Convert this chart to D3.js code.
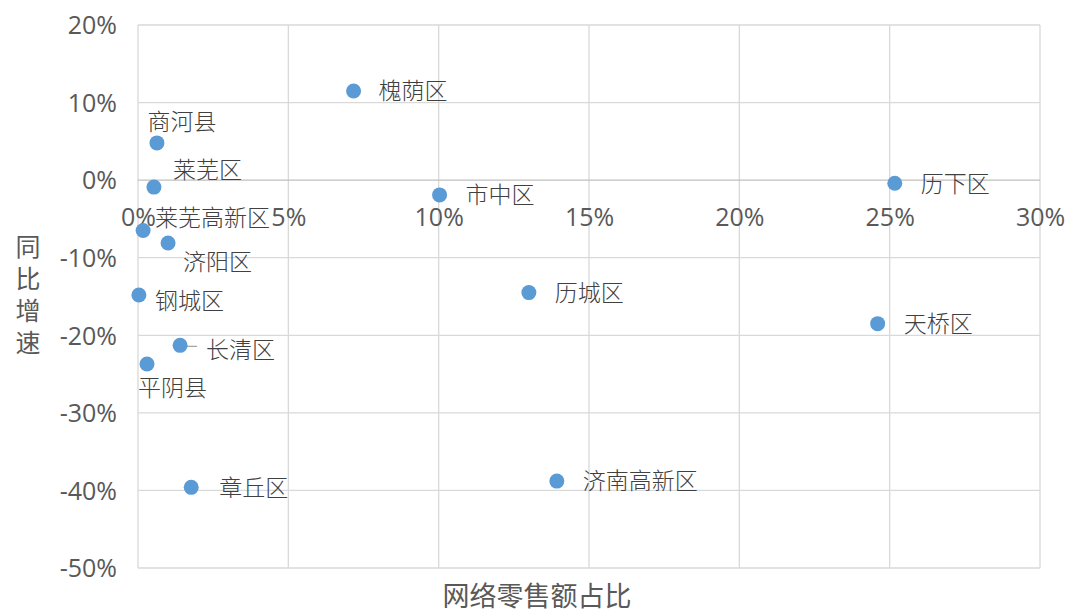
<!DOCTYPE html>
<html><head><meta charset="utf-8">
<script src="https://cdn.jsdelivr.net/npm/d3@7"></script>
<style>body{margin:0;background:#fff}svg{display:block}</style>
</head><body>
<svg id="c" width="1069" height="612"></svg>
<script>
const districts = ["槐荫区","商河县","莱芜区","市中区","历下区","莱芜高新区","济阳区","钢城区","历城区","天桥区","长清区","平阴县","章丘区","济南高新区"];
const onlineShare = [7.17, 0.63, 0.53, 10.03, 25.17, 0.17, 1.0, 0.03, 13.0, 24.6, 1.4, 0.3, 1.77, 13.93];
const yoyGrowth = [11.5, 4.8, -0.9, -1.9, -0.4, -6.5, -8.1, -14.8, -14.5, -18.5, -21.3, -23.7, -39.6, -38.8];
const xTicks = [0, 5, 10, 15, 20, 25, 30];
const yTicks = [20, 10, 0, -10, -20, -30, -40, -50];
// label offsets (layout only): [dx, dy, anchor]
const labelOffsets = [[25,0,"start"],[25,-21,"middle"],[19,-17,"start"],[26,0,"start"],[26,0,"start"],[12,-13,"start"],[15,19,"start"],[16,6,"start"],[26,0,"start"],[26,0,"start"],[26,4,"start"],[-9,24,"start"],[28,0,"start"],[26,0,"start"]];

const svg = d3.select("#c");
const m = {l:138, r:1040, t:25, b:568};
const x = d3.scaleLinear().domain([0,30]).range([m.l, m.r]);
const y = d3.scaleLinear().domain([-50,20]).range([m.b, m.t]);
const fmt = d => d + "%";

// grid
const g = svg.append("g");
g.selectAll(".vx").data(xTicks).join("line")
  .attr("x1", d=>x(d)).attr("x2", d=>x(d)).attr("y1", m.t).attr("y2", m.b)
  .attr("stroke", "#d9d9d9").attr("stroke-width", 1.3);
g.selectAll(".hy").data(yTicks).join("line")
  .attr("x1", m.l).attr("x2", m.r).attr("y1", d=>y(d)).attr("y2", d=>y(d))
  .attr("stroke", d => d===0 ? "#bfbfbf" : "#d9d9d9").attr("stroke-width", 1.3);

// y axis labels
const yAxis = d3.axisLeft(y).tickValues(yTicks).tickFormat(fmt).tickSize(0).tickPadding(21);
const ya = svg.append("g").attr("transform", `translate(${m.l},0)`).call(yAxis);
ya.select(".domain").remove();
ya.selectAll("text").attr("font-family","'Open Sans','Noto Sans',sans-serif").attr("font-size",25).attr("fill","#595959").attr("dy","0.35em");

// x axis labels along zero line
const xAxis = d3.axisBottom(x).tickValues(xTicks).tickFormat(fmt).tickSize(0);
const xa = svg.append("g").attr("transform", `translate(0,${y(0)})`).call(xAxis);
xa.select(".domain").remove();
xa.selectAll("text").attr("font-family","'Open Sans','Noto Sans',sans-serif").attr("font-size",25).attr("fill","#595959").attr("y",37).attr("dy","0.35em");

// data
const data = districts.map((n,i)=>({n, x:onlineShare[i], y:yoyGrowth[i], o:labelOffsets[i]}));

// leader line for 长清区
const cq = data.find(d=>d.n==="长清区");
svg.append("line").attr("x1", x(cq.x)).attr("y1", y(cq.y)+1).attr("x2", x(cq.x)+17).attr("y2", y(cq.y)+1)
  .attr("stroke","#a6a6a6").attr("stroke-width",1.3);

svg.selectAll("circle.pt").data(data).join("circle")
  .attr("cx", d=>x(d.x)).attr("cy", d=>y(d.y)).attr("r", 7.5).attr("fill", "#5b9bd5");

svg.selectAll("text.lab").data(data).join("text")
  .attr("x", d=>x(d.x)+d.o[0]).attr("y", d=>y(d.y)+d.o[1])
  .attr("text-anchor", d=>d.o[2]).attr("dy","0.36em")
  .attr("font-family","'Noto Sans CJK SC',sans-serif").attr("font-size",23).attr("font-weight",300).attr("fill","#404040")
  .text(d=>d.n);

// axis titles
["同","比","增","速"].forEach((c,i)=>svg.append("text").attr("x",28).attr("y",245+i*32)
  .attr("font-family","'Noto Sans CJK SC',sans-serif").attr("font-size",25).attr("fill","#595959")
  .attr("text-anchor","middle").attr("dominant-baseline","central").text(c));
svg.append("text").attr("x", 537).attr("y", 594).attr("text-anchor","middle").attr("dominant-baseline","central")
  .attr("font-family","'Noto Sans CJK SC',sans-serif").attr("font-size",27).attr("fill","#595959").text("网络零售额占比");
</script>
</body></html>
